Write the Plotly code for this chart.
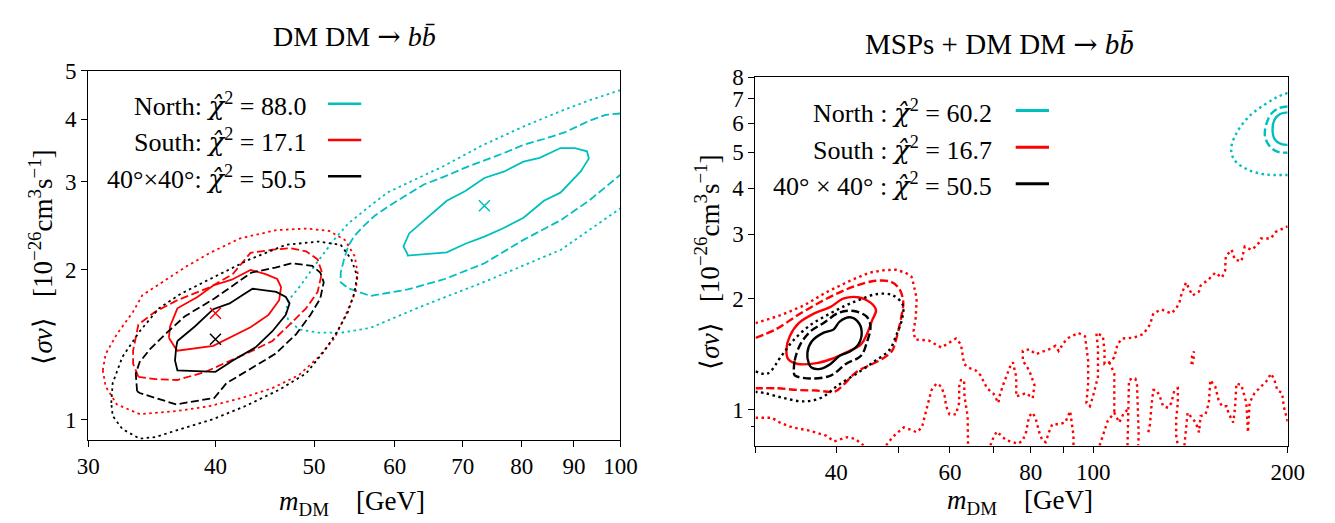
import math
import plotly.graph_objects as go

FONT = "Liberation Serif"
CYAN = "#00BFBF"
RED = "#FF0000"
BLACK = "#000000"

# ---------------- Left panel: DM DM -> b bbar ----------------
left_north_1s = [(61.8,2.142),(61.2,2.225),(62.0,2.362),(67.5,2.746),(70.4,2.872),(73.5,3.051),(76.9,3.144),
                 (80.3,3.289),(83.3,3.348),(87.3,3.503),(90.2,3.503),(92.7,3.451),(93.1,3.338),(91.4,3.144),
                 (87.3,2.851),(84.1,2.746),(80.3,2.539),(76.6,2.416),(73.5,2.327),(70.4,2.252),(67.5,2.165),(61.8,2.133)]
left_north_2s = [(100,4.108),(96.7,4.083),(93.1,3.969),(88.1,3.764),(84.1,3.652),(80.3,3.555),(77.3,3.440),
                 (73.5,3.313),(70.4,3.200),(67.2,3.073),(64.1,2.960),(61.8,2.829),(59.5,2.697),(57.4,2.567),
                 (55.8,2.434),(54.7,2.327),(54.0,2.225),(53.5,2.095),(53.1,1.972),(53.1,1.886),(54.0,1.835),
                 (56.8,1.770),(61.8,1.824),(67.2,1.914),(73.5,2.058),(80.3,2.293),(84.1,2.406),(87.3,2.509),
                 (93.1,2.746),(100,3.097)]
left_north_3s = [(100,4.577),(93.1,4.362),(87.3,4.151),(80.3,3.868),(73.1,3.544),(66.9,3.216),(61.8,2.982),
                 (59.0,2.851),(56.8,2.685),(54.0,2.472),(52.3,2.293),(50.3,2.063),(48.5,1.858),(47.2,1.736),
                 (46.9,1.647),(47.2,1.574),(48.4,1.516),(50.5,1.494),(53.2,1.494),(56.8,1.528),(63.6,1.684),
                 (73.6,1.891),(87.4,2.191),(100,2.652)]
left_south_1s = [(36.0,1.460),(36.1,1.539),(36.7,1.672),(38.4,1.762),(39.8,1.858),(41.5,1.908),(43.3,1.996),
                 (44.8,1.958),(46.0,1.914),(46.4,1.843),(46.2,1.736),(45.1,1.622),(43.3,1.532),(41.6,1.471),
                 (39.8,1.406),(36.7,1.375),(36.5,1.396)]
left_south_2s = [(33.6,1.219),(33.2,1.295),(33.2,1.375),(33.6,1.551),(34.9,1.646),(36.7,1.736),(39.5,1.843),
                 (41.6,1.958),(43.3,2.159),(45.5,2.191),(47.3,2.207),(49.1,2.175),(50.4,2.095),(50.9,1.972),
                 (50.4,1.803),(49.1,1.672),(47.3,1.551),(45.5,1.438),(43.5,1.375),(40.7,1.295),(39.1,1.247),
                 (36.7,1.201),(34.9,1.206)]
left_south_3s = [(31.0,1.256),(31.2,1.354),(32.0,1.483),(33.2,1.646),(33.9,1.776),(36.0,1.928),(37.5,2.032),
                 (39.5,2.159),(42.3,2.309),(45.9,2.398),(49.1,2.416),(51.7,2.390),(53.6,2.293),(54.8,2.127),
                 (55.2,1.958),(54.9,1.803),(53.7,1.622),(52.4,1.460),(50.5,1.335),(48.3,1.228),(45.5,1.157),
                 (42.5,1.106),(39.5,1.065),(36.7,1.041),(33.7,1.026),(32.0,1.073),(31.2,1.166)]
left_full_1s = [(36.7,1.438),(38.2,1.539),(39.8,1.665),(41.3,1.710),(42.5,1.776),(43.5,1.830),(45.9,1.803),
                (46.9,1.762),(47.3,1.710),(46.9,1.622),(45.5,1.504),(43.8,1.396),(41.6,1.314),(40.0,1.247),
                (36.7,1.256),(36.5,1.314),(36.6,1.396)]
left_full_2s = [(33.5,1.140),(33.4,1.238),(33.7,1.305),(34.5,1.385),(35.7,1.483),(37.3,1.610),(39.9,1.749),
                (43.4,1.972),(45.8,2.018),(47.5,2.058),(49.8,2.033),(50.7,1.972),(51.1,1.886),(50.7,1.749),
                (49.6,1.623),(48.0,1.483),(45.8,1.355),(43.4,1.266),(41.0,1.183),(39.9,1.106),(36.6,1.073),
                (33.7,1.131)]
left_full_3s = [(31.6,1.081),(31.7,1.183),(32.4,1.335),(33.7,1.504),(35.2,1.672),(37.0,1.789),(39.8,1.928),
                (43.2,2.095),(46.9,2.241),(50.5,2.275),(53.1,2.241),(54.4,2.095),(55.1,1.943),(54.8,1.803),
                (54.0,1.646),(52.7,1.504),(51.2,1.375),(49.1,1.238),(46.2,1.148),(42.8,1.065),(39.8,1.003),
                (37.0,0.958),(34.9,0.923),(33.7,0.916),(32.4,0.958),(31.7,1.018)]
left_best_fit = {"North": (73.5, 2.685), "South": (40.0, 1.635), "Full": (40.0, 1.449)}

# ---------------- Right panel: MSPs + DM DM -> b bbar ----------------
right_north_1s = [(200,6.421),(194.7,6.355),(190.9,6.139),(189.5,5.773),(190.9,5.433),(195.2,5.270),(200,5.238)]
right_north_2s = [(200,6.659),(193.8,6.592),(188.6,6.368),(185.3,5.954),(184.4,5.544),(187.2,5.217),(192.3,5.029),(200,4.988)]
right_north_3s = [(200,7.255),(192.3,7.050),(183.9,6.727),(174.4,6.265),(166.8,5.657),(163.5,5.111),(165.5,4.760),
                  (173.1,4.495),(183.9,4.360),(200,4.342)]
right_south_1s = [(33.5,1.460),(33.9,1.584),(35.0,1.719),(37.0,1.827),(39.2,1.903),(41.0,2.003),(43.2,2.022),
                  (45.2,1.954),(46.1,1.865),(45.5,1.754),(44.6,1.601),(43.7,1.506),(41.4,1.431),(39.3,1.374),
                  (37.3,1.339),(34.9,1.332),(33.7,1.374)]
right_south_2s = [(30.0,1.569),(32.2,1.651),(34.9,1.809),(37.8,1.962),(40.5,2.085),(43.0,2.173),(46.0,2.240),
                  (48.6,2.226),(50.1,2.129),(50.8,1.962),(50.4,1.773),(49.6,1.569),(48.8,1.445),(47.1,1.374),
                  (45.5,1.332),(43.0,1.267),(41.0,1.167),(39.8,1.121),(37.3,1.128),(34.9,1.132),(32.5,1.144),(30.0,1.144)]
right_south_3s_main = [(30.0,1.719),(32.9,1.809),(35.7,1.922),(38.6,2.085),(42.0,2.240),(45.0,2.357),(47.6,2.396),
                       (49.5,2.400),(51.2,2.357),(52.3,2.300),(52.7,2.194),(53.3,2.003),(53.1,1.772),(52.7,1.634),
                       (53.0,1.552),(55.6,1.543),(58.2,1.476),(61.3,1.562),(62.4,1.506),(63.1,1.332),(64.2,1.300),
                       (65.8,1.279),(66.9,1.241),(68.5,1.144),(70.1,1.105),(71.3,1.044),(71.7,1.098),(72.5,1.167),
                       (74.3,1.306),(75.1,1.346),(76.0,1.229),(76.0,1.087),(78.7,1.110),(80.6,1.076),(81.1,1.167),
                       (79.6,1.279),(77.8,1.360),(77.8,1.445),(79.6,1.460),(81.5,1.416),(85.4,1.460),(87.4,1.491),
                       (88.4,1.445),(90.0,1.521),(91.6,1.569),(94.8,1.617),(97.1,1.584),(97.6,1.476),(98.2,1.360),
                       (98.2,1.179),(97.6,1.044),(98.8,1.023),(99.9,1.087),(101.7,1.229),(101.7,1.476),(101.1,1.617),
                       (103.5,1.584),(104.1,1.445),(104.1,1.332),(105.9,1.346),(107.8,1.388),(109.0,1.506),
                       (110.9,1.562),(115.5,1.569),(119.6,1.607),(122.4,1.702),(123.9,1.827),(127.5,1.873),
                       (132.1,1.827),(134.4,1.884),(136.0,1.962),(136.8,2.044),(139.2,2.217),(142.4,2.044),
                       (145.8,2.094),(146.6,2.173),(151.0,2.263),(154.5,2.357),(158.2,2.286),(160.0,2.381),
                       (160.4,2.610),(163.8,2.718),(165.7,2.557),(169.6,2.531),(171.6,2.774),(175.6,2.718),
                       (179.7,2.803),(181.8,2.919),(188.3,2.919),(191.6,3.040),(199.5,3.134),(200,3.15)]
right_south_3s_islet = [(141.9,1.33),(142.3,1.40),(143.2,1.44),(143.0,1.37),(142.4,1.33)]
right_south_3s_low_a = [(30.0,0.952),(31.8,0.952),(32.7,0.924),(34.2,0.896),(36.4,0.878),(38.6,0.851),
                        (39.7,0.821),(41.6,0.843),(42.8,0.834),(44.1,0.80)]
right_south_3s_low_b = [(47.8,0.80),(48.9,0.843),(50.0,0.873),(50.9,0.896),(52.1,0.884),(53.3,0.869),(54.3,0.896),
                        (54.9,0.972),(55.6,1.055),(56.2,1.132),(57.2,1.179),(58.2,1.156),(58.9,1.087),(59.2,1.023),
                        (59.9,0.972),(61.3,0.972),(62.0,1.044),(62.0,1.156),(62.4,1.204),(63.1,1.204),(63.2,1.087),
                        (63.9,0.962),(63.9,0.852),(64.0,0.80)]
right_south_3s_low_c = [(69.3,0.80),(70.1,0.843),(70.9,0.873),(72.1,0.852),(73.4,0.826),(75.1,0.817),(76.5,0.809),
                        (77.8,0.826),(78.7,0.869),(79.6,0.962),(80.6,0.982),(81.5,0.943),(82.5,0.869),(83.4,0.826),
                        (84.4,0.817),(85.4,0.869),(86.4,0.914),(88.4,0.914),(90.5,0.924),(92.1,0.992),(92.6,0.924),
                        (93.2,0.852),(93.2,0.80)]
right_south_3s_low_d = [(102.3,0.80),(103.5,0.852),(105.3,0.933),(107.8,0.982),(109.7,0.924),(111.6,0.982),(113.2,1.002)]
right_south_3s_branch = [(105.9,1.346),(107.8,1.254),(107.8,1.132),(107.8,1.002),(107.8,0.982)]
right_south_3s_low_d2 = [(113.0,0.80),(113.2,0.90),(113.4,1.05),(113.6,1.204),(114.9,1.216),(116.2,1.216),
                         (116.9,1.167),(117.2,1.044),(117.6,0.943),(117.6,0.852),(117.4,0.80)]
right_south_3s_low_e = [(121.7,0.869),(122.4,0.914),(123.2,1.044),(123.9,1.132),(125.3,1.132),(126.8,1.087),
                        (128.3,1.023),(130.6,1.013),(132.1,1.044),(133.6,1.132),(135.2,1.144),(135.2,1.044),
                        (134.4,0.943),(134.4,0.852),(135.2,0.80)]
right_south_3s_low_f = [(138.4,0.80),(140.0,0.982),(144.1,0.924),(145.8,0.869),(146.6,0.962),(149.2,0.972),
                        (151.0,1.044),(151.8,1.204),(154.5,1.156),(156.3,1.065),(158.2,1.023),(160.9,1.023),
                        (161.9,0.982),(164.7,0.924),(165.7,1.002),(166.6,1.179),(169.6,1.167),(172.6,1.044),
                        (173.6,0.869),(174.6,1.044),(177.7,1.110),(181.8,1.156),(186.1,1.204),(188.3,1.254),
                        (190.5,1.216),(192.7,1.132),(196.1,1.110),(197.2,1.023),(199.5,0.943),(200,0.93)]
right_full_1s = [(36.3,1.332),(36.1,1.431),(36.7,1.537),(38.2,1.617),(39.6,1.651),(40.5,1.736),(42.0,1.783),
                 (43.2,1.736),(43.8,1.633),(43.3,1.506),(42.0,1.440),(40.5,1.402),(39.2,1.332),(37.8,1.292),(36.7,1.300)]
right_full_2s = [(34.4,1.267),(34.5,1.360),(35.2,1.506),(36.5,1.633),(38.2,1.719),(40.5,1.839),(42.6,1.854),
                 (44.6,1.790),(45.2,1.684),(44.6,1.521),(43.7,1.402),(41.4,1.332),(39.3,1.241),(36.5,1.216),(34.5,1.241)]
right_full_3s = [(30.0,1.272),(31.3,1.254),(32.9,1.40),(34.3,1.54),(36.5,1.70),(39.0,1.82),(41.4,1.92),(43.5,1.99),
                 (46.1,2.06),(48.8,2.05),(50.7,1.93),(50.6,1.77),(49.6,1.60),(48.3,1.45),(46.0,1.36),(43.5,1.27),
                 (40.3,1.167),(38.0,1.08),(35.7,1.054),(33.2,1.076),(31.1,1.109),(30.0,1.12)]

# tick values / labels
left_x_ticks = [30, 40, 50, 60, 70, 80, 90, 100]
left_y_ticks = [1, 2, 3, 4, 5]
right_x_ticks = [40, 60, 80, 100, 200]
right_x_minor = [30, 50, 70, 90]
right_y_ticks = [1, 2, 3, 4, 5, 6, 7, 8]
right_y_minor = [0.9]

CHI = "<span style=\"font-family:'DejaVu Serif';font-style:italic\">χ&#770;</span><sup>2</sup>"
left_legend = ["North: " + CHI + " = 88.0", "South: " + CHI + " = 17.1", "40°×40°: " + CHI + " = 50.5"]
right_legend = ["North : " + CHI + " = 60.2", "South : " + CHI + " = 16.7", "40° × 40° : " + CHI + " = 50.5"]
legend_colors = [CYAN, RED, BLACK]
ARROW = "<span style=\"font-family:'DejaVu Serif'\">→</span>"
left_title = "DM DM " + ARROW + " <i>b</i><i>b&#772;</i>"
right_title = "MSPs + DM DM " + ARROW + " <i>b</i><i>b&#772;</i>"

W, H = 1335, 523
DOT = "2.5px,3.5px"
DASH = "8px,3.5px"

def closed(pts):
    return pts + [pts[0]]

fig = go.Figure()

def add(pts, color, dash, width, axes, shape="linear"):
    xa, ya = axes
    fig.add_trace(go.Scatter(x=[p[0] for p in pts], y=[p[1] for p in pts], mode="lines",
                             line=dict(color=color, width=width, dash=dash, shape=shape),
                             xaxis=xa, yaxis=ya, showlegend=False, hoverinfo="skip"))

L = ("x", "y")
R = ("x2", "y2")
LW = 1.8
add(left_north_3s, CYAN, DOT, LW, L)
add(left_north_2s, CYAN, DASH, LW, L)
add(closed(left_north_1s), CYAN, "solid", LW, L)
add(closed(left_south_3s), RED, DOT, LW, L)
add(closed(left_south_2s), RED, DASH, LW, L)
add(closed(left_south_1s), RED, "solid", LW, L)
add(closed(left_full_3s), BLACK, DOT, LW, L)
add(closed(left_full_2s), BLACK, DASH, LW, L)
add(closed(left_full_1s), BLACK, "solid", LW, L)
for name, col in [("North", CYAN), ("South", RED), ("Full", BLACK)]:
    bx, by = left_best_fit[name]
    fig.add_trace(go.Scatter(x=[bx], y=[by], mode="markers", xaxis="x", yaxis="y", showlegend=False,
                             hoverinfo="skip",
                             marker=dict(symbol="x-thin", size=11, line=dict(color=col, width=1.5))))

RW = 2.4
for seg in [right_south_3s_main, right_south_3s_islet, right_south_3s_low_a, right_south_3s_low_b,
            right_south_3s_low_c, right_south_3s_low_d, right_south_3s_branch, right_south_3s_low_d2,
            right_south_3s_low_e, right_south_3s_low_f]:
    add(seg, RED, DOT, RW, R)
add(right_south_2s, RED, DASH, RW, R, "spline")
add(closed(right_south_1s), RED, "solid", RW, R, "spline")
add(right_full_3s, BLACK, DOT, RW, R, "spline")
add(closed(right_full_2s), BLACK, DASH, RW, R, "spline")
add(closed(right_full_1s), BLACK, "solid", RW, R, "spline")
add(right_north_3s, CYAN, DOT, RW, R, "spline")
add(right_north_2s, CYAN, DASH, RW, R, "spline")
add(right_north_1s, CYAN, "solid", RW, R, "spline")

def px(x):
    return x / W

def py(y):
    return 1 - y / H

tickfont = dict(family=FONT, size=23, color="black")
axis_common = dict(type="log", ticks="outside", ticklen=6, tickwidth=1.2, tickcolor="black",
                   showline=True, linecolor="black", linewidth=1.3, mirror=True,
                   showgrid=False, zeroline=False, tickfont=tickfont, tickmode="array")
minor_common = dict(ticks="outside", ticklen=6, tickwidth=1.2, tickcolor="black", showgrid=False)

fig.update_layout(
    width=W, height=H, margin=dict(l=0, r=0, t=0, b=0),
    paper_bgcolor="white", plot_bgcolor="white",
    xaxis=dict(axis_common, domain=[px(78), px(622)], anchor="y",
               range=[math.log10(30), math.log10(100)], tickvals=left_x_ticks,
               ticktext=[str(v) for v in left_x_ticks]),
    yaxis=dict(axis_common, domain=[py(437.7), py(60.3)], anchor="x",
               range=[math.log10(0.912), math.log10(5)], tickvals=left_y_ticks,
               ticktext=[str(v) for v in left_y_ticks]),
    xaxis2=dict(axis_common, domain=[px(760), px(1304)], anchor="y2",
                range=[math.log10(30), math.log10(200)], tickvals=right_x_ticks,
                ticktext=[str(v) for v in right_x_ticks],
                minor=dict(minor_common, tickmode="array", tickvals=right_x_minor)),
    yaxis2=dict(axis_common, domain=[py(443.7), py(66.7)], anchor="x2",
                range=[math.log10(0.8), math.log10(8)], tickvals=right_y_ticks,
                ticktext=[str(v) for v in right_y_ticks],
                minor=dict(minor_common, tickmode="array", tickvals=right_y_minor, ticklen=3)),
)

ann = []
tfont = dict(family=FONT, size=28, color="black")
afont = dict(family=FONT, size=27, color="black")
ann.append(dict(text=left_title, x=px(350), y=py(25), xref="paper", yref="paper",
                showarrow=False, font=tfont, xanchor="center", yanchor="middle"))
ann.append(dict(text=right_title, x=px(1009), y=py(33), xref="paper", yref="paper",
                showarrow=False, font=dict(tfont, size=29), xanchor="center", yanchor="middle"))
xlab = "<i>m</i><sub>DM</sub>    [GeV]"
ylab = "⟨<i>σv</i>⟩   [10<sup>−26</sup>cm<sup>3</sup>s<sup>−1</sup>]"
ann.append(dict(text=xlab, x=px(348), y=py(503), xref="paper", yref="paper", showarrow=False,
                font=afont, xanchor="center", yanchor="middle"))
ann.append(dict(text=xlab, x=px(1030), y=py(501), xref="paper", yref="paper", showarrow=False,
                font=afont, xanchor="center", yanchor="middle"))
ann.append(dict(text=ylab, x=px(30), y=py(251), xref="paper", yref="paper", showarrow=False,
                font=afont, textangle=-90, xanchor="center", yanchor="middle"))
ann.append(dict(text=ylab, x=px(711), y=py(256), xref="paper", yref="paper", showarrow=False,
                font=afont, textangle=-90, xanchor="center", yanchor="middle"))

lfont = dict(family=FONT, size=26, color="black")
shapes = []
for i, (txt, col) in enumerate(zip(left_legend, legend_colors)):
    yy = [95, 132, 169][i]
    ann.append(dict(text=txt, x=px(303), y=py(yy), xref="paper", yref="paper", showarrow=False,
                    font=lfont, xanchor="right", yanchor="middle"))
    shapes.append(dict(type="line", xref="paper", yref="paper", x0=px(323), x1=px(357),
                       y0=py(yy - 1), y1=py(yy - 1), line=dict(color=col, width=2.5)))
for i, (txt, col) in enumerate(zip(right_legend, legend_colors)):
    yy = [101.7, 139.3, 176.7][i]
    ann.append(dict(text=txt, x=px(1004), y=py(yy), xref="paper", yref="paper", showarrow=False,
                    font=lfont, xanchor="right", yanchor="middle"))
    shapes.append(dict(type="line", xref="paper", yref="paper", x0=px(1026), x1=px(1060),
                       y0=py(yy - 1), y1=py(yy - 1), line=dict(color=col, width=3)))

fig.update_layout(annotations=ann, shapes=shapes)
fig.write_html("out.html", config={"displayModeBar": False},
               post_script="document.body.style.margin='0px';"
                           "document.body.style.overflow='hidden';"
                           "document.documentElement.style.overflow='hidden';")
